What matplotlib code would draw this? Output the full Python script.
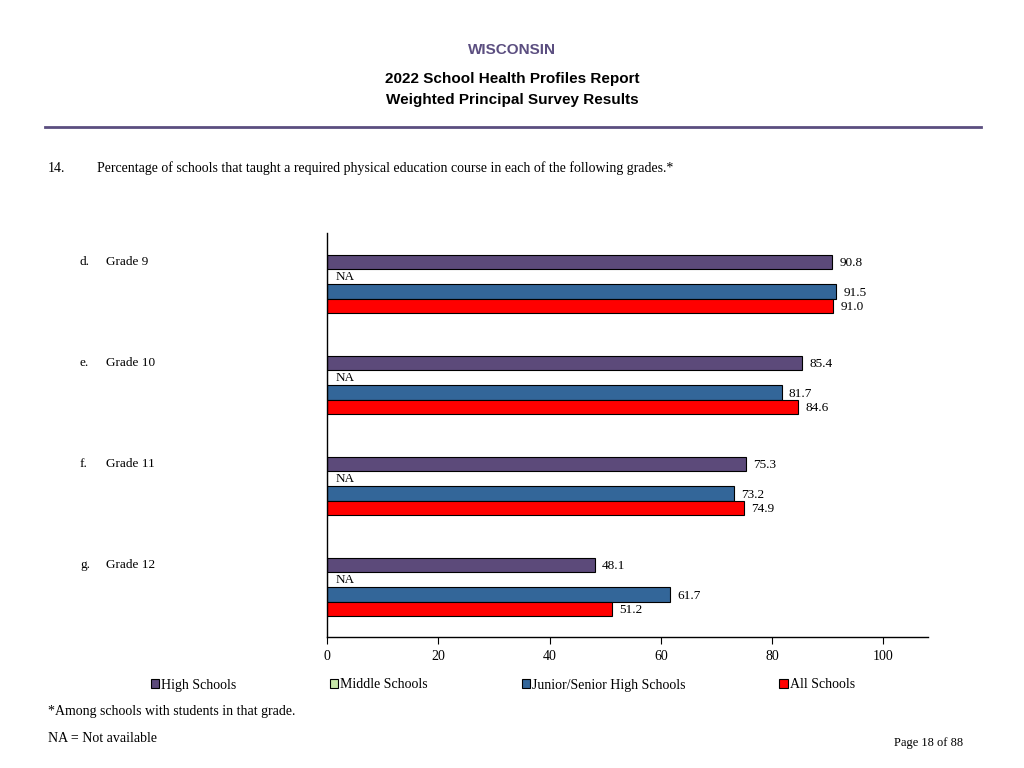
import matplotlib
matplotlib.use('Agg')
import matplotlib.pyplot as plt
import matplotlib.transforms as mtransforms
import numpy as np

plt.rcParams['font.family'] = ['Liberation Serif', 'DejaVu Serif']

LETTERS = ['d.', 'e.', 'f.', 'g.']
GRADES = ['Grade 9', 'Grade 10', 'Grade 11', 'Grade 12']
SERIES = ['High Schools', 'Middle Schools', 'Junior/Senior High Schools', 'All Schools']
HIGH = [90.8, 85.4, 75.3, 48.1]
MIDDLE = [None, None, None, None]
JUNIOR = [91.5, 81.7, 73.2, 61.7]
ALL = [91.0, 84.6, 74.9, 51.2]
COLORS = ['#5c4a7a', '#c6e5a8', '#336699', '#ff0000']

PURPLE = '#5b4e80'

fig = plt.figure(figsize=(10.24, 7.68), dpi=100)

# header
fig.text(0.5, 1 - 50 / 768, 'WISCONSIN', ha='center', va='center',
         family='Liberation Sans', weight='bold', size=11, color=PURPLE)
fig.text(0.5, 1 - 79 / 768, '2022 School Health Profiles Report', ha='center',
         va='center', family='Liberation Sans', weight='bold', size=11)
fig.text(0.5, 1 - 100 / 768, 'Weighted Principal Survey Results', ha='center',
         va='center', family='Liberation Sans', weight='bold', size=11)
fig.add_artist(plt.Line2D([45 / 1024, 981 / 1024], [1 - 127 / 768] * 2,
                          color=PURPLE, lw=2))
fig.text(48 / 1024, 1 - 168 / 768, '14.', va='center', size=10)
fig.text(97 / 1024, 1 - 168 / 768,
         'Percentage of schools that taught a required physical education '
         'course in each of the following grades.*', va='center', size=10)

ax = fig.add_axes([327 / 1024, 1 - 637 / 768, 601 / 1024, 404 / 768])

first = 29 / 101
step = 0.146
height = 0.14
groups = np.arange(len(GRADES))
bars = []
for k, (vals, color, name) in enumerate(zip([HIGH, MIDDLE, JUNIOR, ALL], COLORS, SERIES)):
    ys = groups + first + k * step
    widths = [v if v is not None else 0 for v in vals]
    b = ax.barh(ys, widths, height=height, color=color, edgecolor='black',
                linewidth=0.8, label=name)
    bars.append(b)
    for y, v in zip(ys, vals):
        if v is None:
            ax.text(1.6, y, 'NA', va='center', ha='left', size=9.5)
        else:
            ax.text(v + 1.3, y + 0.01, f'{v:.1f}', va='center', ha='left', size=9.5)

ax.set_xlim(0, 108)
ax.set_ylim(4.0, 0)
ax.set_xticks([0, 20, 40, 60, 80, 100])
ax.tick_params(axis='x', labelsize=10, length=5, width=0.8, pad=4)
ax.set_yticks([])
for side in ['top', 'right']:
    ax.spines[side].set_visible(False)
for side in ['left', 'bottom']:
    ax.spines[side].set_linewidth(1)

# category labels at the left of the page
trans = mtransforms.blended_transform_factory(fig.transFigure, ax.transData)
for i, (letter, grade) in enumerate(zip(LETTERS, GRADES)):
    y = i + first
    ax.text(80 / 1024, y, letter, transform=trans, va='center', size=9.5)
    ax.text(106 / 1024, y, grade, transform=trans, va='center', size=9.5)

fig.legend(handles=bars, labels=SERIES, loc='center left',
           bbox_to_anchor=(145 / 1024, 1 - 685 / 768), ncol=4, frameon=False,
           fontsize=10, handlelength=0.6, handleheight=0.6, handletextpad=0.15,
           columnspacing=6.75, borderaxespad=0)

fig.text(48 / 1024, 1 - 712 / 768, '*Among schools with students in that grade.',
         va='center', size=10)
fig.text(48 / 1024, 1 - 739 / 768, 'NA = Not available', va='center', size=10)
fig.text(963 / 1024, 1 - 743 / 768, 'Page 18 of 88', va='center', ha='right',
         size=9)

fig.savefig('out.png', dpi=100)
